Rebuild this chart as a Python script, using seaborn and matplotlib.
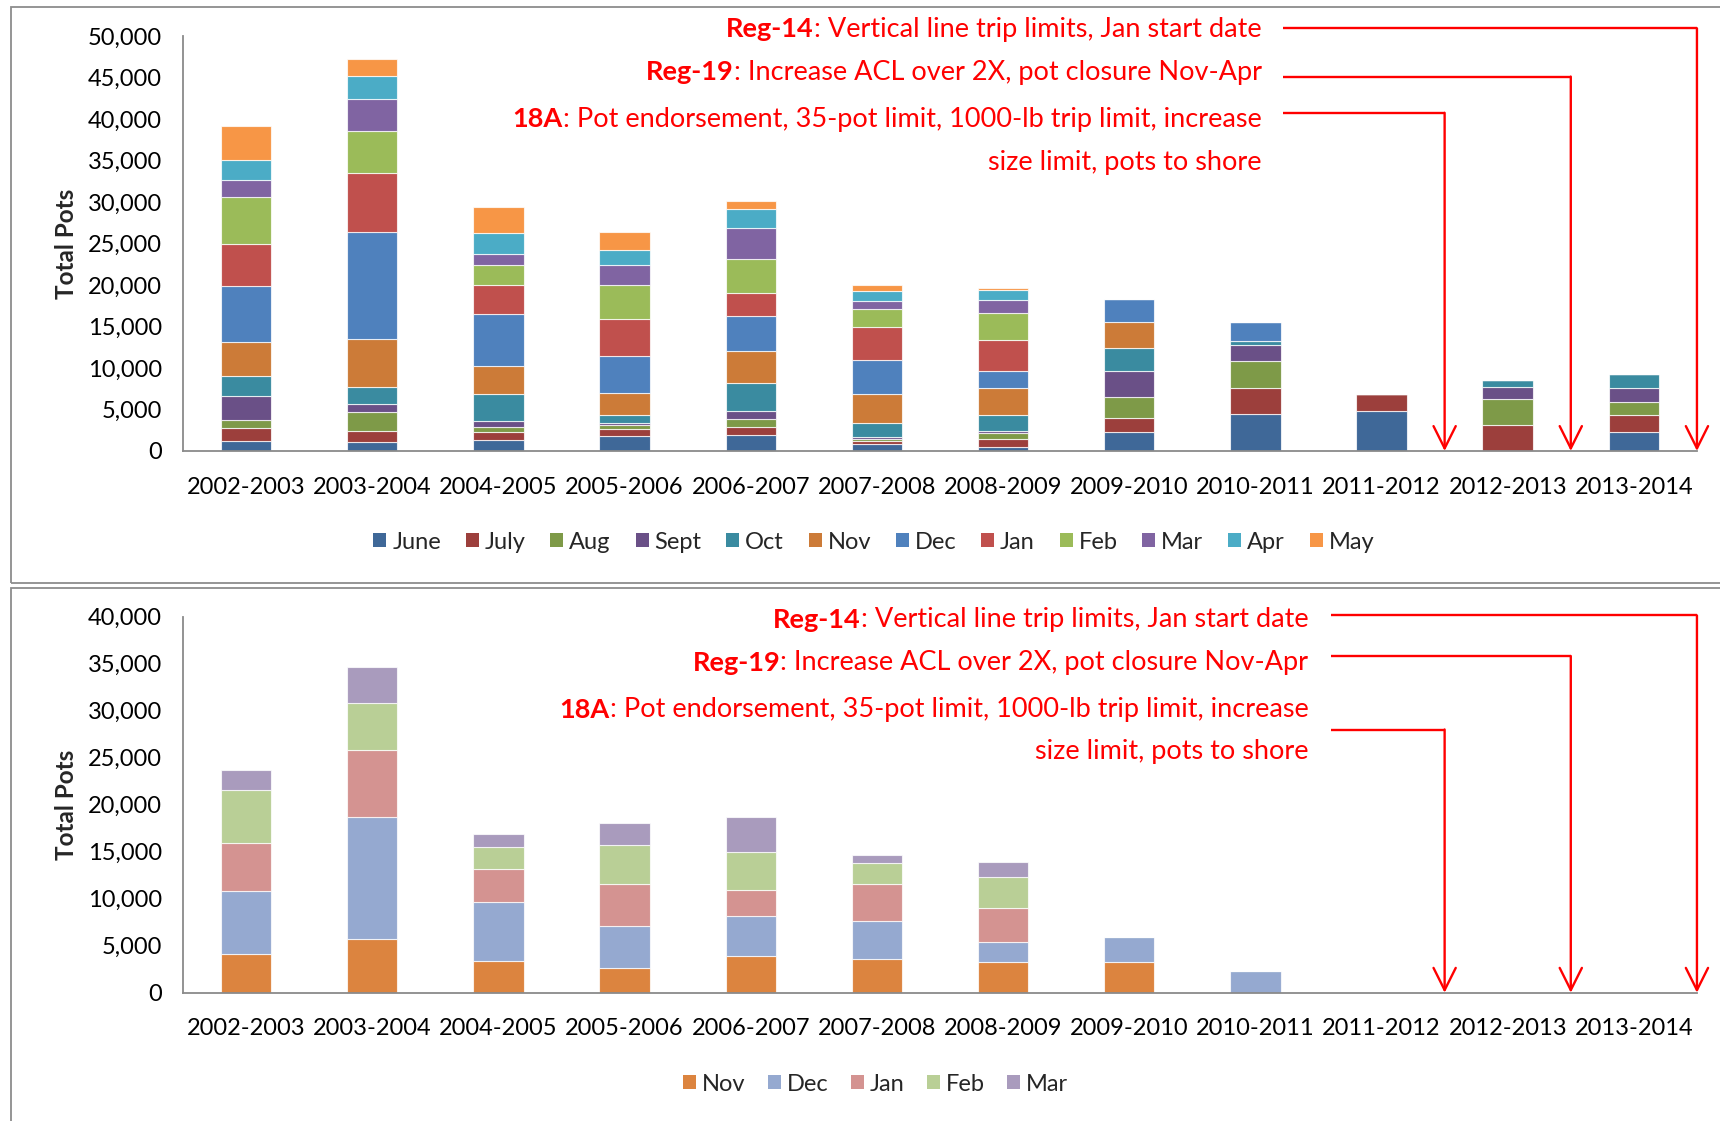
import numpy as np
import matplotlib
matplotlib.use("Agg")
import matplotlib.pyplot as plt
from matplotlib.patches import Rectangle, Patch
from matplotlib.ticker import FuncFormatter, MultipleLocator
import seaborn as sns

# ---- data: monthly pot counts per fishing season ----
seasons = ["2002-2003", "2003-2004", "2004-2005", "2005-2006", "2006-2007", "2007-2008",
           "2008-2009", "2009-2010", "2010-2011", "2011-2012", "2012-2013", "2013-2014"]
months = ["June", "July", "Aug", "Sept", "Oct", "Nov", "Dec", "Jan", "Feb", "Mar", "Apr", "May"]

june = [1200, 1080, 1360, 1800, 1880, 800, 440, 2330, 4410, 4810, 0, 2290]
july = [1530, 1330, 930, 890, 1010, 360, 960, 1640, 3130, 2090, 3090, 2040]
aug = [1000, 2320, 640, 480, 1000, 320, 770, 2490, 3250, 0, 3170, 1600]
sept = [2890, 920, 680, 160, 920, 240, 200, 3200, 2000, 0, 1480, 1610]
octo = [2400, 2090, 3250, 1000, 3330, 1610, 1960, 2690, 480, 0, 760, 1680]
nov = [4140, 5730, 3420, 2670, 3950, 3540, 3310, 3250, 0, 0, 0, 0]
dec = [6730, 12910, 6230, 4450, 4170, 4110, 2050, 2670, 2290, 0, 0, 0]
jan = [5090, 7130, 3480, 4420, 2820, 3920, 3670, 0, 0, 0, 0, 0]
feb = [5580, 5090, 2380, 4140, 4020, 2250, 3230, 0, 0, 0, 0, 0]
mar = [2110, 3800, 1380, 2370, 3720, 870, 1620, 0, 0, 0, 0, 0]
apr = [2360, 2770, 2520, 1810, 2370, 1210, 1130, 0, 0, 0, 0, 0]
may = [4170, 2040, 3090, 2240, 960, 720, 240, 0, 0, 0, 0, 0]

monthly = dict(zip(months, [june, july, aug, sept, octo, nov, dec, jan, feb, mar, apr, may]))
closure_months = ["Nov", "Dec", "Jan", "Feb", "Mar"]

top_colors = ["#3F6898", "#9C3F3C", "#7E9A48", "#6A5087", "#3A8BA0", "#CC7B38",
              "#4F81BD", "#C0504D", "#9BBB59", "#8064A2", "#4BACC6", "#F79646"]
bottom_colors = ["#DC843F", "#95A9D0", "#D49391", "#B9CF96", "#A99BBD"]

notes = [
    ("Reg-14", ": Vertical line trip limits, Jan start date"),
    ("Reg-19", ": Increase ACL over 2X, pot closure Nov-Apr"),
    ("18A", ": Pot endorsement, 35-pot limit, 1000-lb trip limit, increase"),
]
notes_tail = "size limit, pots to shore"

# ---- style ----
sns.set_theme(style="white")
plt.rcParams["font.family"] = ["Lato", "DejaVu Sans"]
FS = 17
FS_NOTE = 19.5
AXIS_GREY = "#8a8a8a"
RED = "#FF0000"

fig = plt.figure(figsize=(17.2, 11.21), dpi=100)

# panel frames
fig.add_artist(Rectangle((0.0062, 0.4799), 1.2, 0.99376 - 0.4799, transform=fig.transFigure,
                         fill=False, edgecolor="#8c8c8c", lw=1.3))
fig.add_artist(Rectangle((0.0062, -0.05), 1.2, 0.4755 + 0.05, transform=fig.transFigure,
                         fill=False, edgecolor="#8c8c8c", lw=1.3))

ax_top = fig.add_axes([0.1064, 0.5977, 0.8802, 0.3702])
ax_bot = fig.add_axes([0.1064, 0.1144, 0.8802, 0.3356])


def stacked_bars(ax, order, colors):
    base = np.zeros(len(seasons))
    for name, col in zip(order, colors):
        vals = np.asarray(monthly[name], dtype=float)
        sns.barplot(x=seasons, y=vals, bottom=base, color=col, saturation=1,
                    width=0.4, errorbar=None, ax=ax,
                    edgecolor=(1, 1, 1, 0.75), linewidth=0.8)
        base += vals


def style_axes(ax, ymax, step):
    ax.set_xlim(-0.5, len(seasons) - 0.5)
    ax.set_ylim(0, ymax)
    ax.yaxis.set_major_locator(MultipleLocator(step))
    ax.yaxis.set_major_formatter(FuncFormatter(lambda v, p: f"{v:,.0f}"))
    ax.set_xticks(np.arange(len(seasons)))
    ax.set_xticklabels(seasons)
    ax.set_xticks(np.arange(-0.5, len(seasons)), minor=True)
    ax.tick_params(axis="x", which="major", length=0, pad=18.5, labelsize=FS, colors="black")
    ax.tick_params(axis="x", which="minor", length=6, width=1.3, color=AXIS_GREY, direction="out")
    ax.tick_params(axis="y", which="major", length=6, width=1.3, color=AXIS_GREY,
                   direction="out", pad=9, labelsize=FS, labelcolor="black")
    for side in ("top", "right"):
        ax.spines[side].set_visible(False)
    for side in ("left", "bottom"):
        ax.spines[side].set_color(AXIS_GREY)
        ax.spines[side].set_linewidth(1.3)
    ax.set_xlabel("")
    ax.set_ylabel("Total Pots", fontsize=17.5, fontweight="bold")
    ax.yaxis.set_label_coords(-0.0695, 0.5)


def regulation_notes(ax, text_x, text_ys, tail_y, line_x, line_ys, arrow_xs):
    for (bold, rest), ty in zip(notes, text_ys):
        t = ax.text(text_x, ty, rest, color=RED, fontsize=FS_NOTE, ha="right", va="center",
                    clip_on=False)
        ax.annotate(bold, xy=(0, 0.5), xycoords=t, ha="right", va="center",
                    color=RED, fontsize=FS_NOTE, fontweight="bold", annotation_clip=False)
    ax.text(text_x, tail_y, notes_tail, color=RED, fontsize=FS_NOTE, ha="right", va="center",
            clip_on=False)
    for ly, ax_x in zip(line_ys, arrow_xs):
        ax.plot([line_x, ax_x], [ly, ly], color=RED, lw=1.7, clip_on=False,
                solid_capstyle="butt")
        ax.annotate("", xy=(ax_x, 0), xytext=(ax_x, ly),
                    arrowprops=dict(arrowstyle="->,head_length=0.8,head_width=0.4",
                                    color=RED, lw=1.7, shrinkA=0, shrinkB=0,
                                    mutation_scale=20),
                    annotation_clip=False)


# ---- top: all months ----
stacked_bars(ax_top, months, top_colors)
style_axes(ax_top, 50000, 5000)
regulation_notes(ax_top, 8.05, [50794, 45635, 39947], 34788, 8.22,
                 [50926, 45106, 40741], [11.5, 10.5, 9.5])

handles = [Patch(facecolor=c, edgecolor="none") for c in top_colors]
fig.legend(handles, months, loc="center", bbox_to_anchor=(0.508, 0.5165), ncol=12,
           frameon=False, fontsize=FS, handlelength=0.55, handleheight=0.55,
           handletextpad=0.25, columnspacing=1.05)

# ---- bottom: closure months only ----
stacked_bars(ax_bot, closure_months, bottom_colors)
style_axes(ax_bot, 40000, 5000)
regulation_notes(ax_bot, 8.42, [39650, 35102, 30087], 25656, 8.6,
                 [40117, 35802, 27988], [11.5, 10.5, 9.5])

handles = [Patch(facecolor=c, edgecolor="none") for c in bottom_colors]
fig.legend(handles, closure_months, loc="center", bbox_to_anchor=(0.509, 0.033), ncol=5,
           frameon=False, fontsize=FS, handlelength=0.55, handleheight=0.55,
           handletextpad=0.25, columnspacing=0.95)

fig.savefig("out.png", dpi=100)
